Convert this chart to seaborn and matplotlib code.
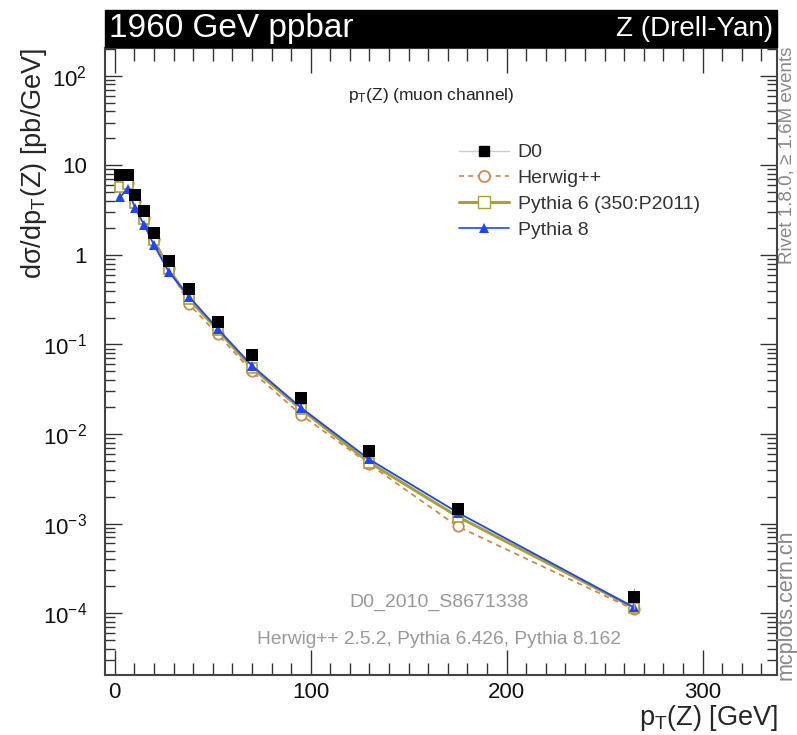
import numpy as np
import pandas as pd
import matplotlib
matplotlib.use("Agg")
import matplotlib.pyplot as plt
from matplotlib.ticker import MultipleLocator, LogLocator, NullFormatter, FuncFormatter
from matplotlib.lines import Line2D
import seaborn as sns

# Z boson transverse momentum spectrum, muon channel
pt = [2.5, 6.5, 10.5, 15.0, 20.0, 27.5, 38.0, 52.5, 70.0, 95.0, 130.0, 175.0, 265.0]
d0 = [7.8, 7.8, 4.7, 3.1, 1.76, 0.86, 0.42, 0.18, 0.077, 0.0255, 0.0065, 0.00144, 0.00015]
d0_err = [0.3, 0.3, 0.2, 0.13, 0.08, 0.04, 0.02, 0.009, 0.004, 0.0015, 0.0005, 0.00014, 0.00004]
herwig = [6.0, 6.3, 4.0, 2.6, 1.5, 0.72, 0.28, 0.13, 0.05, 0.0165, 0.0046, 0.00093, 0.00011]
pythia6 = [5.8, 6.2, 3.8, 2.5, 1.45, 0.70, 0.32, 0.145, 0.055, 0.019, 0.0048, 0.0012, 0.000115]
pythia8 = [4.4, 5.4, 3.3, 2.16, 1.29, 0.65, 0.34, 0.15, 0.058, 0.0197, 0.0052, 0.00133, 0.000116]

sns.set_style("ticks")
plt.rcParams["font.family"] = ["Liberation Sans", "DejaVu Sans"]
plt.rcParams["mathtext.fontset"] = "custom"
plt.rcParams["mathtext.rm"] = "Liberation Sans"
plt.rcParams["mathtext.it"] = "Liberation Sans"

fig = plt.figure(figsize=(7.97, 7.35), dpi=100)
ax = fig.add_axes([105 / 797, 1 - 675 / 735, 672 / 797, 627 / 735])

df = pd.DataFrame({"pt": pt, "D0": d0, "Herwig++": herwig,
                   "Pythia 6 (350:P2011)": pythia6, "Pythia 8": pythia8})

c_her = "#d08850"
c_py6 = "#a8a232"
c_py8 = "#2244ff"

sns.lineplot(data=df, x="pt", y="Herwig++", ax=ax, color=c_her, lw=1.3,
             linestyle=(0, (3, 2.5)), marker="o", markersize=7.5,
             markerfacecolor="white", markeredgecolor=c_her, markeredgewidth=1.3,
             label="_h", zorder=3)
sns.lineplot(data=df, x="pt", y="Pythia 6 (350:P2011)", ax=ax, color=c_py6, lw=2.2,
             marker="s", markersize=6.5, markerfacecolor="white",
             markeredgecolor=c_py6, markeredgewidth=1.2,
             label="_p6", zorder=4)
sns.lineplot(data=df, x="pt", y="Pythia 8", ax=ax, color=c_py8, lw=1.3,
             marker="^", markersize=7, markeredgewidth=0,
             label="_p8", zorder=5)
ax.errorbar(df["pt"], df["D0"], yerr=d0_err, fmt="none", ecolor="#aaaaaa",
            elinewidth=1.0, zorder=6)
sns.scatterplot(data=df, x="pt", y="D0", ax=ax, color="black", marker="s",
                s=70, edgecolor="black", linewidth=0, zorder=7, label="_d0")

ax.set_yscale("log")
ax.set_xlim(-5, 338)
ax.set_ylim(10 ** -4.69, 10 ** 2.31)

ax.xaxis.set_major_locator(MultipleLocator(100))
ax.xaxis.set_minor_locator(MultipleLocator(10))
ax.yaxis.set_major_locator(LogLocator(base=10, numticks=20))
ax.yaxis.set_minor_locator(LogLocator(base=10, subs=np.arange(2, 10), numticks=20))
ax.yaxis.set_minor_formatter(NullFormatter())


def ylab(v, _):
    e = int(round(np.log10(v)))
    if e == 0:
        return "1"
    if e == 1:
        return "10"
    return r"$10^{%d}$" % e


ax.yaxis.set_major_formatter(FuncFormatter(ylab))
ax.tick_params(which="both", direction="in", top=True, right=True, colors="#333333",
               labelcolor="#111111", labelsize=16)
ax.tick_params(axis="x", which="major", length=18, width=1.0, pad=5)
ax.tick_params(axis="x", which="minor", length=9, width=1.0)
ax.tick_params(axis="y", which="major", length=12, width=1.0, pad=13)
ax.tick_params(axis="y", which="minor", length=7, width=1.0)
for s in ax.spines.values():
    s.set_linewidth(1.5)
    s.set_color("#444444")

ax.set_xlabel("")
ax.set_ylabel("")
ax.xaxis.label.set_visible(False)
ax.yaxis.label.set_visible(False)

# header bar
fig.patches.append(plt.Rectangle((105 / 797, 1 - 47 / 735), 672 / 797, 37 / 735,
                                 transform=fig.transFigure, color="black", zorder=0))
fig.text(109 / 797, 1 - 29 / 735, "1960 GeV ppbar", color="white", fontsize=24,
         ha="left", va="center")
fig.text(773 / 797, 1 - 29 / 735, "Z (Drell-Yan)", color="white", fontsize=20,
         ha="right", va="center")

# axis labels, aligned to the top / right ends of the frame
fig.text(34 / 797, 1 - 48 / 735, r"d$\sigma$/dp$_{\mathregular{T}}$(Z) [pb/GeV]",
         rotation=90, fontsize=19.5, ha="center", va="top")
fig.text(778 / 797, 1 - 718 / 735, r"p$_{\mathregular{T}}$(Z) [GeV]",
         fontsize=19.5, ha="right", va="center")

ax.text(0.485, 0.925, r"p$_{\mathregular{T}}$(Z) (muon channel)", transform=ax.transAxes,
        fontsize=12.5, ha="center", va="center", color="#222222")
ax.text(0.497, 0.115, "D0_2010_S8671338", transform=ax.transAxes,
        fontsize=14, ha="center", va="center", color="#999999")
ax.text(0.497, 0.057, "Herwig++ 2.5.2, Pythia 6.426, Pythia 8.162", transform=ax.transAxes,
        fontsize=13.8, ha="center", va="center", color="#999999")

fig.text(787 / 797, 1 - 47 / 735, "Rivet 1.8.0, \u2265 1.6M events", rotation=90,
         fontsize=13.5, ha="center", va="top", color="#888888")
fig.text(786 / 797, 1 - 680 / 735, "mcplots.cern.ch", rotation=90,
         fontsize=15.5, ha="center", va="bottom", color="#888888")

# legend
handles = [
    Line2D([], [], color="#cccccc", lw=1, marker="s", markersize=7,
           markerfacecolor="black", markeredgecolor="black"),
    Line2D([], [], color=c_her, lw=1.2, linestyle=(0, (3, 2.5)), marker="o", markersize=8,
           markerfacecolor="white", markeredgecolor=c_her, markeredgewidth=1.3),
    Line2D([], [], color=c_py6, lw=2.2, marker="s", markersize=8,
           markerfacecolor="white", markeredgecolor=c_py6, markeredgewidth=1.0),
    Line2D([], [], color=c_py8, lw=1.2, marker="^", markersize=7, markeredgewidth=0),
]
labels = ["D0", "Herwig++", "Pythia 6 (350:P2011)", "Pythia 8"]
ax.legend(handles, labels, loc="upper left", bbox_to_anchor=(0.5, 0.875),
          frameon=False, fontsize=14, handlelength=2.6, handletextpad=0.45,
          labelspacing=0.42, labelcolor="#333333")

fig.savefig("out.png", dpi=100, facecolor="white")
